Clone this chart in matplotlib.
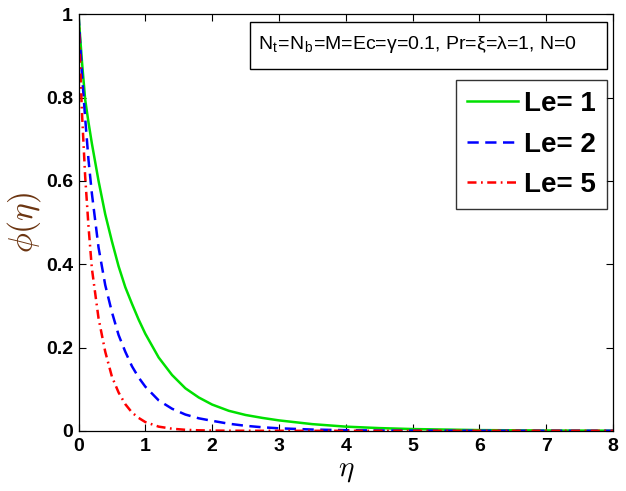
import matplotlib
matplotlib.use("Agg")
import matplotlib.pyplot as plt
from matplotlib.patches import Rectangle

plt.rcParams['font.family'] = ['Liberation Sans', 'DejaVu Sans']
plt.rcParams['mathtext.fontset'] = 'cm'

# Concentration profiles phi(eta) for three Lewis numbers
eta = [0, 0.05, 0.1, 0.15, 0.2, 0.3, 0.4, 0.5, 0.6, 0.7, 0.8, 0.9, 1.0,
       1.2, 1.4, 1.6, 1.8, 2.0, 2.25, 2.5, 2.75, 3.0, 3.5, 4.0, 4.5, 5.0,
       6.0, 7.0, 8.0]
phi_le1 = [1.0, 0.89, 0.795, 0.74, 0.69, 0.60, 0.52, 0.455, 0.395, 0.345,
           0.305, 0.267, 0.233, 0.176, 0.134, 0.102, 0.080, 0.063, 0.048,
           0.038, 0.031, 0.025, 0.016, 0.010, 0.0065, 0.0042, 0.0017,
           0.0007, 0.0003]
phi_le2 = [1.0, 0.86, 0.75, 0.65, 0.57, 0.44, 0.35, 0.285, 0.23, 0.19,
           0.155, 0.128, 0.106, 0.073, 0.053, 0.039, 0.030, 0.024, 0.017,
           0.012, 0.0085, 0.006, 0.003, 0.0015, 0.0007, 0.0003, 0.0001,
           0.0, 0.0]
phi_le5 = [1.0, 0.77, 0.61, 0.49, 0.39, 0.27, 0.19, 0.13, 0.092, 0.064,
           0.044, 0.031, 0.021, 0.010, 0.005, 0.0024, 0.0012, 0.0006,
           0.0002, 0.0001, 0.0, 0.0, 0.0, 0.0, 0.0, 0.0, 0.0, 0.0, 0.0]

labels = ['Le= 1', 'Le= 2', 'Le= 5']
colors = ['#00e000', '#0000ff', '#ff0000']
styles = ['-', (0, (4.5, 2.6)), (0, (3.6, 1.8, 0.7, 1.8))]

W, H = 626, 491
fig = plt.figure(figsize=(W / 100, H / 100), dpi=100)
ax = fig.add_axes([78.5 / W, 1 - 430.8 / H, (613 - 78.5) / W, (430.8 - 14.3) / H])

for y, lab, c, ls in zip([phi_le1, phi_le2, phi_le5], labels, colors, styles):
    ax.plot(eta, y, color=c, linestyle=ls, linewidth=1.8, label=lab)

ax.set_xlim(0, 8)
ax.set_ylim(0, 1)
ax.set_xticks(range(0, 9))
ax.set_yticks([0, 0.2, 0.4, 0.6, 0.8, 1])
ax.set_yticklabels(['0', '0.2', '0.4', '0.6', '0.8', '1'])
ax.tick_params(direction='in', top=True, right=True, length=5, width=0.8,
               labelsize=14)
ax.tick_params(axis='x', pad=5)
ax.tick_params(axis='y', pad=4)
for t in ax.get_xticklabels() + ax.get_yticklabels():
    t.set_fontweight('bold')
for s in ax.spines.values():
    s.set_linewidth(0.9)

ax.set_xlabel(r'$\eta$', fontsize=21, labelpad=1)
ax.set_ylabel(r'$\phi(\eta)$', fontsize=24, color='#6b3410', labelpad=2)

# parameter box across the top
fig.add_artist(Rectangle((250 / W, 1 - 69.3 / H), (607 - 250) / W, (69.3 - 21.7) / H,
                         transform=fig.transFigure, fill=False,
                         edgecolor='black', linewidth=1.0))
fig.text(258 / W, 1 - 44.5 / H,
         r'N$_\mathregular{t}$=N$_\mathregular{b}$=M=Ec=γ=0.1, Pr=ξ=λ=1, N=0',
         fontsize=14, va='center', ha='left')

leg = ax.legend(loc='upper right', bbox_to_anchor=(607 / W, 1 - 80 / H),
                bbox_transform=fig.transFigure, prop={'weight': 'bold', 'size': 20},
                frameon=True, fancybox=False, edgecolor='black', borderaxespad=0,
                handlelength=1.85, handletextpad=0.2, labelspacing=0.52,
                borderpad=0.4)
leg.get_frame().set_linewidth(1.0)

fig.savefig('out.png', dpi=100)
